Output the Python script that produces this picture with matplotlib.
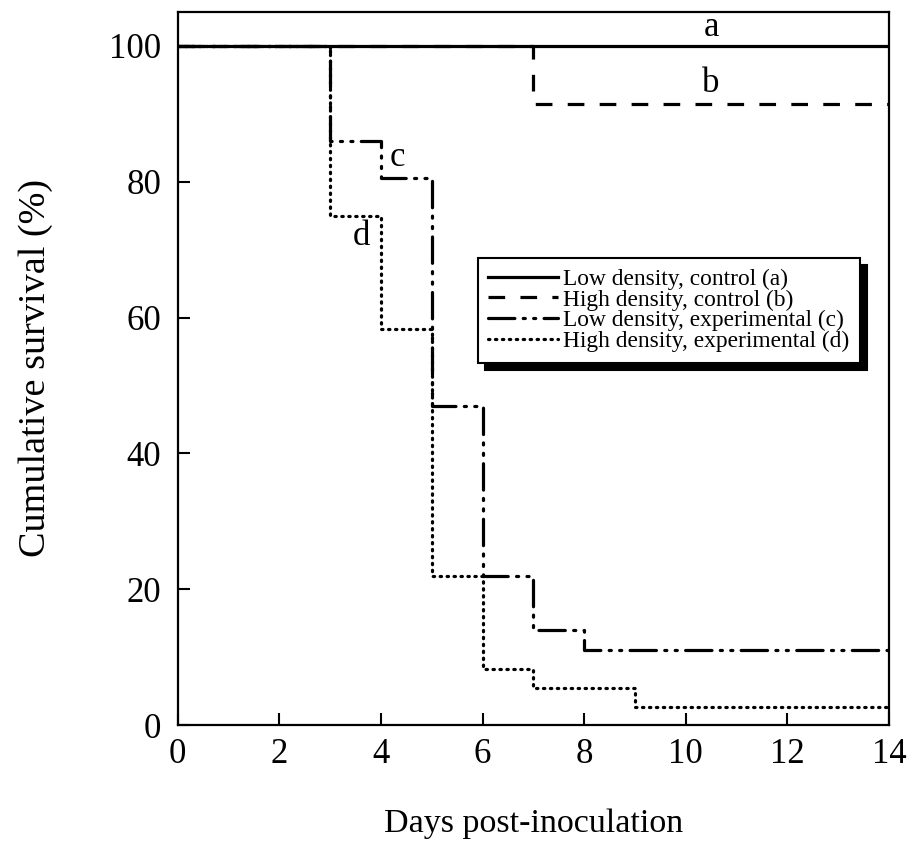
import numpy as np
import matplotlib.pyplot as plt

plt.rcParams.update({'font.family': 'Liberation Serif', 'font.size': 24})
plt.rcParams['lines.scale_dashes'] = False

# Survival data (step functions, post)
days = [0, 3, 4, 5, 6, 7, 8, 9, 14]
low_control = [100, 100, 100, 100, 100, 100, 100, 100, 100]
high_control = [100, 100, 100, 100, 100, 91.5, 91.5, 91.5, 91.5]
low_exp = [100, 86, 80.5, 47, 22, 14, 11, 11, 11]
high_exp = [100, 75, 58.3, 22, 8.3, 5.5, 5.5, 2.7, 2.7]

labels = ['Low density, control (a)', 'High density, control (b)',
          'Low density, experimental (c)', 'High density, experimental (d)']

fig = plt.figure(figsize=(9.07, 8.48), dpi=100)
ax = fig.add_axes([0.196, 0.145, 0.784, 0.841])

lw = 2.3
ax.step(days, low_control, where='post', color='black', lw=lw, label=labels[0])
ax.step(days, high_control, where='post', color='black', lw=lw,
        linestyle=(0, (12, 11)), label=labels[1])
ax.step(days, low_exp, where='post', color='black', lw=lw,
        linestyle=(0, (19, 6, 1.5, 6, 1.5, 6)), dash_capstyle='round',
        label=labels[2])
ax.step(days, high_exp, where='post', color='black', lw=lw,
        linestyle=(0, (1, 4)), dash_capstyle='round', label=labels[3])

# curve letters
ax.text(10.5, 102.7, 'a', ha='center', va='center', fontsize=25)
ax.text(10.5, 94.5, 'b', ha='center', va='center', fontsize=25)
ax.text(4.33, 83.6, 'c', ha='center', va='center', fontsize=25)
ax.text(3.62, 71.9, 'd', ha='center', va='center', fontsize=25)

ax.set_xlim(0, 14)
ax.set_ylim(0, 105)
ax.set_xticks(range(0, 15, 2))
ax.set_yticks(range(0, 101, 20))
ax.tick_params(direction='in', length=8.5, width=1.5, labelsize=25,
               top=False, right=False)
ax.tick_params(axis='y', pad=12)
ax.tick_params(axis='x', pad=9)
for s in ax.spines.values():
    s.set_linewidth(1.6)

ax.set_xlabel('Days post-inoculation', fontsize=24.5, labelpad=27)
ax.set_ylabel('Cumulative survival (%)', fontsize=27.5, labelpad=40)

leg = ax.legend(loc='upper left', bbox_to_anchor=(0.422, 0.655),
                borderaxespad=0, fontsize=16.8, fancybox=False,
                edgecolor='black', framealpha=1, handlelength=3.0,
                handletextpad=0.2, labelspacing=-0.02, borderpad=0.45,
                shadow={'ox': 5, 'oy': -5, 'color': 'black', 'alpha': 1})
leg.get_frame().set_linewidth(1.5)

fig.savefig('out.png', dpi=100)
